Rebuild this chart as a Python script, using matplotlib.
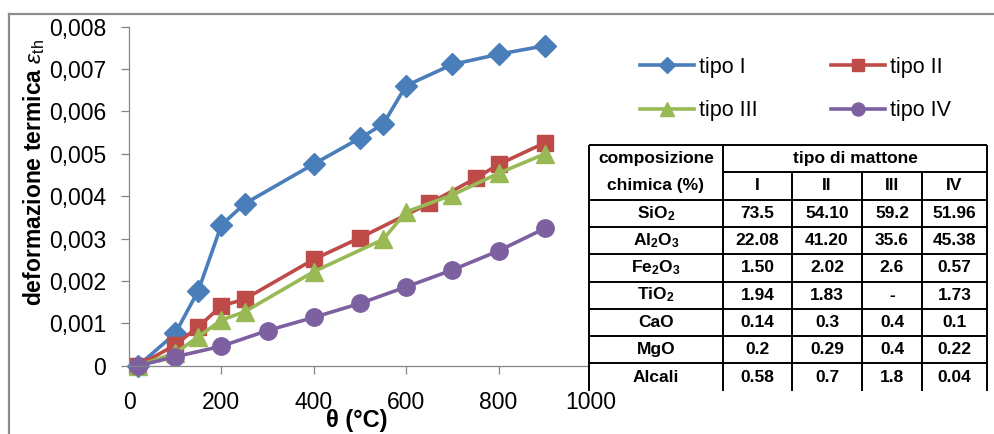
import matplotlib
matplotlib.use("Agg")
import matplotlib.pyplot as plt
from matplotlib.lines import Line2D
from matplotlib.ticker import FixedLocator, FuncFormatter

plt.rcParams['font.family'] = ['Liberation Sans', 'DejaVu Sans']
plt.rcParams['mathtext.fontset'] = 'custom'
plt.rcParams['mathtext.rm'] = 'Liberation Sans'
plt.rcParams['mathtext.it'] = 'Liberation Sans:italic'
plt.rcParams['mathtext.bf'] = 'Liberation Sans:bold'

# ---- thermal strain curves -------------------------------------------------
temp_I = [20, 100, 150, 200, 250, 400, 500, 550, 600, 700, 800, 900]
eps_I = [0.0, 0.00076, 0.00177, 0.00332, 0.00382, 0.00476, 0.00537, 0.00570,
         0.00661, 0.00711, 0.00735, 0.00755]

temp_II = [20, 100, 150, 200, 250, 400, 500, 650, 750, 800, 900]
eps_II = [0.0, 0.00049, 0.00092, 0.00141, 0.00157, 0.00251, 0.00302, 0.00383,
          0.00442, 0.00475, 0.00526]

temp_III = [20, 100, 150, 200, 250, 400, 550, 600, 700, 800, 900]
eps_III = [0.0, 0.00030, 0.00068, 0.00108, 0.00127, 0.00222, 0.00298, 0.00363,
           0.00403, 0.00454, 0.00500]

temp_IV = [20, 100, 200, 300, 400, 500, 600, 700, 800, 900]
eps_IV = [0.0, 0.00021, 0.00046, 0.00083, 0.00114, 0.00147, 0.00186, 0.00226,
          0.00271, 0.00324]

series_labels = ["tipo I", "tipo II", "tipo III", "tipo IV"]
x_ticks = [0, 200, 400, 600, 800, 1000]
y_ticks = [0, 0.001, 0.002, 0.003, 0.004, 0.005, 0.006, 0.007, 0.008]

# ---- chemical composition table ---------------------------------------------
header_left = ["composizione", "chimica (%)"]
header_group = "tipo di mattone"
brick_types = ["I", "II", "III", "IV"]
oxides = [r"SiO$_\mathbf{2}$", r"Al$_\mathbf{2}$O$_\mathbf{3}$",
          r"Fe$_\mathbf{2}$O$_\mathbf{3}$", r"TiO$_\mathbf{2}$",
          "CaO", "MgO", "Alcali"]
composition = [
    ["73.5", "54.10", "59.2", "51.96"],
    ["22.08", "41.20", "35.6", "45.38"],
    ["1.50", "2.02", "2.6", "0.57"],
    ["1.94", "1.83", "-", "1.73"],
    ["0.14", "0.3", "0.4", "0.1"],
    ["0.2", "0.29", "0.4", "0.22"],
    ["0.58", "0.7", "1.8", "0.04"],
]

W, H = 995, 434
fig = plt.figure(figsize=(W / 100, H / 100), dpi=100)

# outer chart frame
frame_kw = dict(color="#8c8c8c", lw=1.6, transform=fig.transFigure)
fig.add_artist(Line2D([9 / W, 1.01], [1 - 14 / H, 1 - 14 / H], **frame_kw))
fig.add_artist(Line2D([9 / W, 9 / W], [1 - 14 / H, -0.01], **frame_kw))

ax = fig.add_axes([129 / W, 1 - 365.7 / H, 462 / W, 339 / H])

colors = ["#4A7EBB", "#BE4B48", "#98B954", "#7D60A0"]
markers = ["D", "s", "^", "o"]
msizes = [11, 12, 13, 12.5]
datasets = [(temp_I, eps_I), (temp_II, eps_II), (temp_III, eps_III), (temp_IV, eps_IV)]

handles = []
for (x, y), c, m, ms, lab in zip(datasets, colors, markers, msizes, series_labels):
    h, = ax.plot(x, y, color=c, lw=2.6, marker=m, ms=ms, mfc=c, mec=c,
                 label=lab, clip_on=False)
    handles.append(h)

ax.set_xlim(0, 1000)
ax.set_ylim(0, 0.008)
ax.xaxis.set_major_locator(FixedLocator(x_ticks))
ax.yaxis.set_major_locator(FixedLocator(y_ticks))
ax.yaxis.set_major_formatter(FuncFormatter(
    lambda v, p: "0" if v == 0 else f"{v:.3f}".replace(".", ",")))

for s in ["top", "right"]:
    ax.spines[s].set_visible(False)
for s in ["left", "bottom"]:
    ax.spines[s].set_color("#868686")
    ax.spines[s].set_linewidth(0.9)
ax.tick_params(axis="both", colors="#868686", labelcolor="black",
               labelsize=16.5, length=5.5, width=0.9, direction="out")
ax.tick_params(axis="y", pad=11)
ax.tick_params(axis="x", pad=13)

fig.text(357 / W, 1 - 421 / H, "θ (°C)", fontsize=17, fontweight="bold",
         ha="center", va="center")
fig.text(34 / W, 1 - 172 / H, r"deformazione termica $\varepsilon_{\mathrm{th}}$",
         fontsize=16.5, fontweight="bold", rotation=90, ha="center", va="center")

order = [0, 2, 1, 3]
fig.legend([handles[i] for i in order], [series_labels[i] for i in order],
           loc="upper left", bbox_to_anchor=(629 / W, 1 - 46 / H), ncol=2,
           frameon=False, fontsize=15.5, handlelength=2.5, handletextpad=0.25,
           columnspacing=3.4, labelspacing=1.05, borderpad=0, markerscale=0.75)

# ---- table drawn in pixel coordinates ----------------------------------------
tx0, tx1, ty0 = 589, 987, 145
row_h = 27.3
col_x = [589, 723, 792, 862, 922, 987]
n_rows = 2 + len(oxides)
ty1 = ty0 + n_rows * row_h

tax = fig.add_axes([tx0 / W, 1 - (ty1 + 1) / H, (tx1 - tx0) / W, (ty1 + 1 - ty0) / H])
tax.set_xlim(tx0, tx1)
tax.set_ylim(ty1 + 1, ty0)
tax.set_zorder(5)
tax.axis("off")
tax.add_patch(plt.Rectangle((tx0, ty0), tx1 - tx0, ty1 + 1 - ty0,
                            facecolor="white", edgecolor="none", zorder=0))

lk = dict(color="black", lw=1.4, solid_capstyle="butt", clip_on=False)
tax.plot([col_x[0], col_x[-1]], [ty0, ty0], **lk)
tax.plot([col_x[1], col_x[-1]], [ty0 + row_h, ty0 + row_h], **lk)
for k in range(2, n_rows):
    yk = ty0 + k * row_h
    tax.plot([col_x[0], col_x[-1]], [yk, yk], **lk)
for i, xc in enumerate(col_x):
    ystart = ty0 + row_h if i in (2, 3, 4) else ty0
    tax.plot([xc, xc], [ystart, ty1], **lk)

tk = dict(fontsize=12.5, fontweight="bold", ha="center", va="center")
cx0 = (col_x[0] + col_x[1]) / 2
tax.text(cx0, ty0 + 0.5 * row_h, header_left[0], **tk)
tax.text(cx0, ty0 + 1.5 * row_h, header_left[1], **tk)
tax.text((col_x[1] + col_x[-1]) / 2, ty0 + 0.5 * row_h, header_group, **tk)
for j, bt in enumerate(brick_types):
    tax.text((col_x[j + 1] + col_x[j + 2]) / 2, ty0 + 1.5 * row_h, bt, **tk)
for r, (ox, vals) in enumerate(zip(oxides, composition)):
    yc = ty0 + (r + 2.5) * row_h
    tax.text(cx0, yc, ox, **tk)
    for j, v in enumerate(vals):
        tax.text((col_x[j + 1] + col_x[j + 2]) / 2, yc, v, **tk)

fig.savefig("out.png", dpi=100)
